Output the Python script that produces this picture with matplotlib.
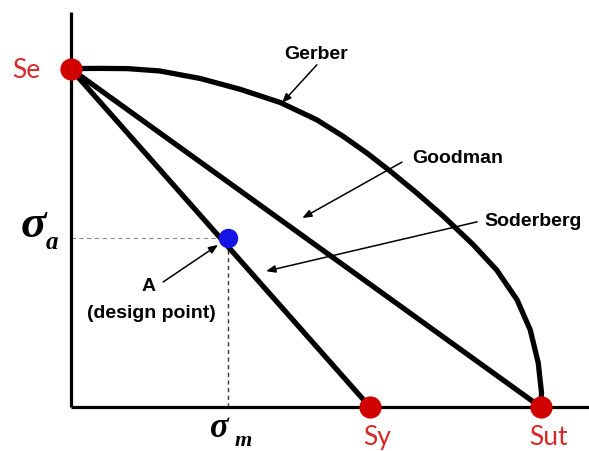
import matplotlib
matplotlib.use("Agg")
import matplotlib.pyplot as plt

# ---- data (stress units, arbitrary) ----
Se = 72.0
Sy = 63.7
Sut = 100.0
design_sm = 33.5
design_sa = 36.0

gerber_sm = [0.0, 6.0, 12.1, 19.0, 27.6, 36.1, 44.6, 52.4, 58.0, 63.1, 68.0, 73.7,
             79.3, 85.6, 90.7, 95.0, 97.8, 99.5, 100.2, 100.0]
gerber_sa = [72.0, 72.05, 72.0, 71.5, 69.9, 67.6, 64.8, 61.1, 57.6, 54.0, 50.2, 45.5,
             40.6, 34.6, 29.1, 22.8, 16.4, 9.4, 3.0, 0.0]

goodman_sm = [0.0, Sut]
goodman_sa = [Se, 0.0]
soderberg_sm = [0.0, Sy]
soderberg_sa = [Se, 0.0]

# ---- figure ----
fig = plt.figure(figsize=(5.89, 4.51), dpi=100)
ax = fig.add_axes([0, 0, 1, 1])
ax.set_xlim(-15.0, 110.3)
ax.set_ylim(-9.36, 86.6)
ax.axis('off')

# axes lines
ax.plot([0, 0], [0, 84.0], color='black', lw=2.3, solid_capstyle='butt', zorder=2)
ax.plot([0, 110.3], [0, 0], color='black', lw=2.3, solid_capstyle='butt', zorder=2)

# dashed guide lines
ax.plot([0, design_sm], [design_sa, design_sa], color='#888888', lw=0.8,
        dashes=(4, 3), zorder=1)
ax.plot([design_sm, design_sm], [0, design_sa], color='#333333', lw=1.0,
        dashes=(3, 2.5), zorder=1)

# curves
lw_main = 3.8
ax.plot(gerber_sm, gerber_sa, color='black', lw=lw_main, solid_joinstyle='round',
        solid_capstyle='round', zorder=3)
ax.plot(goodman_sm, goodman_sa, color='black', lw=lw_main, solid_capstyle='round', zorder=3)
ax.plot(soderberg_sm, soderberg_sa, color='black', lw=lw_main, solid_capstyle='round', zorder=3)

# points
red = '#d10000'
ax.plot([0], [Se], 'o', color=red, ms=15, mec=red, zorder=5)
ax.plot([Sy], [0], 'o', color=red, ms=15, mec=red, zorder=5)
ax.plot([Sut], [0], 'o', color=red, ms=15, mec=red, zorder=5)
ax.plot([design_sm], [design_sa], 'o', color='#1414e6', ms=13, mec='#1414e6', zorder=5)

# red labels
lab_font = dict(family=['Lato', 'DejaVu Sans'], fontsize=19, color='#d42a2a')
ax.text(-9.3, 71.5, 'Se', ha='center', va='center', **lab_font)
ax.text(65.2, -6.4, 'Sy', ha='center', va='center', **lab_font)
ax.text(101.6, -6.4, 'Sut', ha='center', va='center', **lab_font)

# sigma labels
serif = ['Liberation Serif', 'DejaVu Serif']
ax.text(-8.0, 38.6, 'σ', family=serif, fontstyle='italic', fontweight='bold',
        fontsize=34, ha='center', va='center')
ax.text(-3.9, 35.0, 'a', family=serif, fontstyle='italic', fontweight='bold',
        fontsize=18, ha='center', va='center')
ax.text(31.6, -4.5, 'σ', family=serif, fontstyle='italic', fontweight='bold',
        fontsize=25, ha='center', va='center')
ax.text(36.7, -7.3, 'm', family=serif, fontstyle='italic', fontweight='bold',
        fontsize=16, ha='center', va='center')

# annotations
ann_font = dict(family=['Liberation Sans', 'DejaVu Sans'], fontweight='bold', fontsize=14)
arrow = dict(arrowstyle='-|>,head_length=0.55,head_width=0.22', color='black', lw=1.1,
             shrinkA=0, shrinkB=0)

ax.text(52.2, 75.1, 'Gerber', ha='center', va='center', **ann_font)
ax.annotate('', xy=(45.0, 64.7), xytext=(52.4, 72.8), arrowprops=arrow)

ax.text(82.4, 52.8, 'Goodman', ha='center', va='center', **ann_font)
ax.annotate('', xy=(49.3, 40.2), xytext=(70.5, 52.1), arrowprops=arrow)

ax.text(98.4, 39.4, 'Soderberg', ha='center', va='center', **ann_font)
ax.annotate('', xy=(41.6, 28.9), xytext=(86.5, 39.4), arrowprops=arrow)

ax.text(16.7, 25.7, 'A', ha='center', va='center', **ann_font)
ax.text(17.1, 20.0, '(design point)', ha='center', va='center', **ann_font)
ax.annotate('', xy=(31.4, 34.5), xytext=(19.7, 26.6), arrowprops=arrow)

fig.savefig('out.png', dpi=100)
